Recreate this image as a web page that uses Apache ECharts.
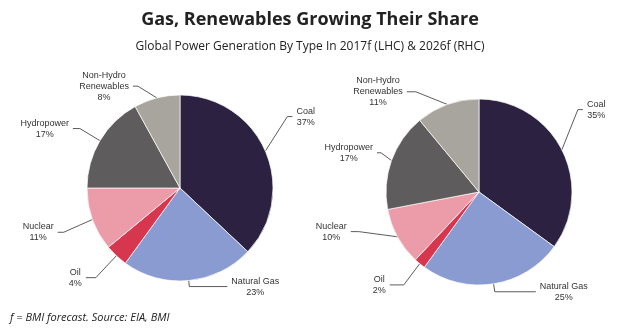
<!DOCTYPE html>
<html><head><meta charset="utf-8">
<script src="https://cdn.jsdelivr.net/npm/echarts@6/dist/echarts.min.js"></script>
<style>html,body{margin:0;padding:0;background:#fff}#c{width:620px;height:335px}</style>
</head><body><div id="c"></div>
<script>
// ---- data ----
const categories = ['Coal', 'Natural Gas', 'Oil', 'Nuclear', 'Hydropower', 'Non-Hydro\nRenewables'];
const share2017f = [37, 23, 4, 11, 17, 8];
const share2026f = [35, 25, 2, 10, 17, 11];
const titleText = 'Gas, Renewables Growing Their Share';
const subtitleText = 'Global Power Generation By Type In 2017f (LHC) & 2026f (RHC)';
const footnoteText = 'f = BMI forecast. Source: EIA, BMI';

// ---- styles ----
const sliceColors = ['#2c2140', '#8a9bd1', '#d6374e', '#eb9ca8', '#5f5c5e', '#a8a59e'];
// leader line tuning per slice: [length, length2, vertical shift, elbow x shift]
const leaderLeft = [[24, 5, -25, 0], [6, 38, 0, 0], [30, 10, 0, 0], [20, 16, 6, -10], [14, 15, -5, -8], [8, 22, -4, -17]];
const leaderRight = [[18, 5, -32, 0], [8, 41, 0, 0], [25, 14, 2, 0], [10, 38, -10, -30], [8, 7, -5, -3], [5, 39, -8, -30]];

const labelFont = 'Liberation Sans, Arial, sans-serif';

function pieSeries(values, center, leaders) {
  return {
    type: 'pie',
    center: center,
    radius: 93,
    startAngle: 90,
    clockwise: true,
    avoidLabelOverlap: false,
    animation: false,
    silent: true,
    itemStyle: { borderColor: '#ffffff', borderWidth: 0.7 },
    data: categories.map(function (n, i) {
      return {
        name: n,
        value: values[i],
        itemStyle: { color: sliceColors[i] },
        labelLine: { length: leaders[i][0], length2: leaders[i][1] }
      };
    }),
    label: {
      show: true,
      position: 'outer',
      formatter: '{t|{b}}\n{t|{c}%}',
      color: '#333',
      fontFamily: labelFont,
      fontSize: 9,
      lineHeight: 11,
      distanceToLabelLine: 4,
      rich: { t: { align: 'center', color: '#333', fontFamily: labelFont, fontSize: 9, lineHeight: 11 } }
    },
    labelLine: { show: true, smooth: false, lineStyle: { color: '#4a4a4a', width: 0.9 } },
    labelLayout: function (p) {
      const pts = p.labelLinePoints;
      if (!pts) return {};
      const s = leaders[p.dataIndex];
      const dy = s[2], ex = s[3];
      const r = p.labelRect;
      const isRight = p.align ? p.align === 'left' : pts[2][0] >= pts[0][0];
      return {
        x: isRight ? r.x : r.x + r.width,
        y: r.y + r.height / 2 + dy,
        labelLinePoints: [
          [pts[0][0], pts[0][1]],
          [pts[1][0] + ex, pts[1][1] + dy],
          [pts[2][0], pts[2][1] + dy]
        ]
      };
    }
  };
}

const chart = echarts.init(document.getElementById('c'), null, { renderer: 'canvas' });
chart.setOption({
  backgroundColor: '#ffffff',
  animation: false,
  title: [
    { text: titleText, left: 'center', top: 6, textStyle: { fontFamily: 'Open Sans', fontWeight: 'bold', fontSize: 18, color: '#222' } },
    { text: subtitleText, left: 'center', top: 36, textStyle: { fontFamily: 'Open Sans', fontWeight: 'normal', fontSize: 12, color: '#222' } },
    { text: footnoteText, left: 5, top: 307, textStyle: { fontFamily: 'Open Sans', fontStyle: 'italic', fontWeight: 'normal', fontSize: 11, color: '#222' } }
  ],
  series: [
    pieSeries(share2017f, [180, 188], leaderLeft),
    pieSeries(share2026f, [479, 192], leaderRight)
  ]
});
</script>
</body></html>
